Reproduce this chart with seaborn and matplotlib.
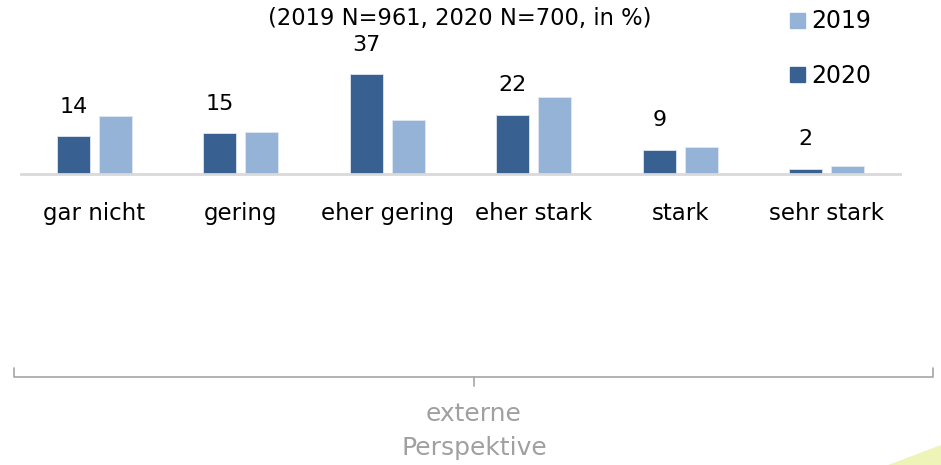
import pandas as pd
import matplotlib.pyplot as plt
import matplotlib.patches as mpatches
from matplotlib.lines import Line2D
import seaborn as sns

# Data
categories = ["gar nicht", "gering", "eher gering", "eher stark", "stark", "sehr stark"]
values_2020 = [14, 15, 37, 22, 9, 2]
values_2019 = [21.5, 15.5, 20, 28.5, 10, 3]
years = ["2020", "2019"]
title_text = "(2019 N=961, 2020 N=700, in %)"
group_label = "externe\nPerspektive"

df = pd.DataFrame({
    "Kategorie": categories * 2,
    "Jahr": ["2020"] * len(categories) + ["2019"] * len(categories),
    "Wert": values_2020 + values_2019,
})

colors = {"2020": "#386192", "2019": "#95B3D7"}

sns.set_style("white")
plt.rcParams["font.family"] = ["DejaVu Sans"]

fig = plt.figure(figsize=(9.41, 4.65), dpi=100)
ax = fig.add_axes([21 / 941, 1 - 174 / 465, 879 / 941, 174 / 465])

sns.barplot(data=df, x="Kategorie", y="Wert", hue="Jahr", hue_order=years,
            palette=colors, saturation=1, width=0.574, gap=0.21,
            edgecolor="#dfe7f1", linewidth=0.6, ax=ax, legend=False)

ax.set_xlim(-0.5, len(categories) - 0.5)
ax.set_ylim(0, 64.4)
ax.set_xlabel("")
ax.set_ylabel("")
ax.set_yticks([])
for s in ["top", "left", "right"]:
    ax.spines[s].set_visible(False)
ax.spines["bottom"].set_color("#d9d9d9")
ax.spines["bottom"].set_linewidth(2)
ax.tick_params(axis="x", length=0, pad=20, labelsize=16.5, labelcolor="#000000")

# value labels above the 2020 bars only
bars_2020 = ax.containers[0]
ax.bar_label(bars_2020, labels=[str(v) for v in values_2020], padding=14,
             fontsize=16, color="#000000")

# title
fig.text(460 / 941, 1 - 19 / 465, title_text, ha="center", va="center",
         fontsize=16.3, color="#000000")

# legend (2019 on top, 2020 below)
handles = [mpatches.Patch(color=colors["2019"], label="2019"),
           mpatches.Patch(color=colors["2020"], label="2020")]
fig.legend(handles=handles, loc="upper left", bbox_to_anchor=(781 / 941, 1 - 0 / 465),
           frameon=False, fontsize=17, labelcolor="#000000",
           handlelength=0.6, handleheight=0.6,
           handletextpad=0.3, labelspacing=1.3, borderaxespad=0)

# bracket below the chart
bc = "#a6a6a6"
y_b = 1 - 377 / 465
y_end = 1 - 368 / 465
x0, x1, xm = 14 / 941, 933 / 941, 474 / 941
fig.add_artist(Line2D([x0, x0, x1, x1], [y_end, y_b, y_b, y_end],
                      transform=fig.transFigure, color=bc, lw=1.2))
fig.add_artist(Line2D([xm, xm], [y_b, 1 - 386 / 465],
                      transform=fig.transFigure, color=bc, lw=1.2))
fig.text(xm, 1 - 431 / 465, group_label, ha="center", va="center",
         fontsize=18, color="#a0a0a0", linespacing=1.55)

# decorative corner shape
fig.add_artist(mpatches.Polygon([(888 / 941, 0), (1, 20 / 465), (1, 0)],
                                closed=True, transform=fig.transFigure,
                                facecolor="#eef4b8", edgecolor="none"))

fig.savefig("out.png", dpi=100)
